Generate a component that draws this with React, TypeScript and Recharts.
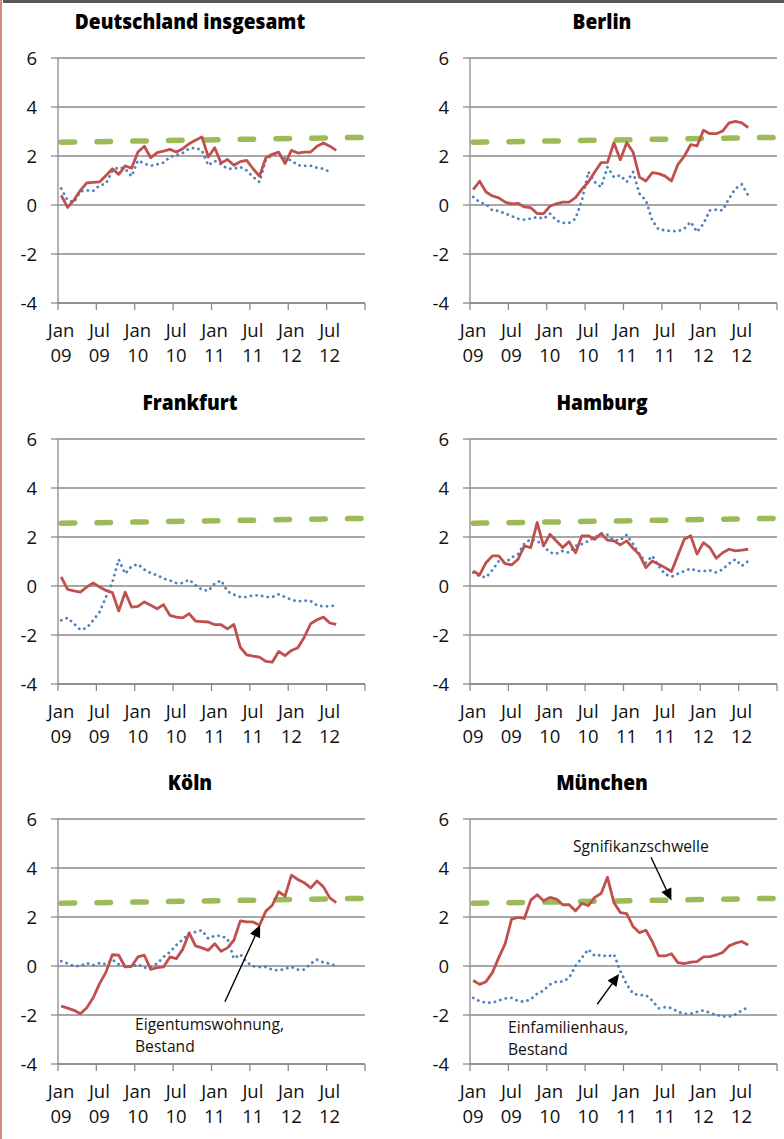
import React from 'react';
import { LineChart, Line, XAxis, YAxis, CartesianGrid, ReferenceLine } from 'recharts';

// x axis: 48 monthly categories, Jan 09 .. Dec 12, labels every 6 months
const tickMonths = [0, 6, 12, 18, 24, 30, 36, 42, 48];
const tickMonthNames = ['Jan', 'Jul', 'Jan', 'Jul', 'Jan', 'Jul', 'Jan', 'Jul', ''];
const tickYears = ['09', '09', '10', '10', '11', '11', '12', '12', ''];
const yTicks = [-4, -2, 0, 2, 4, 6];

// Signifikanzschwelle: first and last month
const thresholdMonths = [0.5, 47.5];
const threshold = [2.56, 2.76];

// Eigentumswohnung, Bestand (red) / Einfamilienhaus, Bestand (blue)
const deRed = [0.39, -0.1, 0.2, 0.6, 0.9, 0.92, 0.94, 1.2, 1.48, 1.25, 1.6, 1.5, 2.16, 2.4, 1.93, 2.14, 2.2, 2.27, 2.16, 2.3, 2.5, 2.64, 2.78, 1.96, 2.34, 1.71, 1.86, 1.62, 1.77, 1.82, 1.48, 1.18, 1.93, 2.07, 2.16, 1.69, 2.23, 2.12, 2.16, 2.16, 2.4, 2.53, 2.4, 2.23];
const deBlue = [0.67, 0.19, 0.12, 0.55, 0.6, 0.57, 0.8, 0.87, 1.4, 1.55, 1.48, 1.17, 1.82, 1.69, 1.6, 1.66, 1.73, 1.96, 2.03, 2.12, 2.3, 2.34, 2.23, 1.62, 1.8, 1.66, 1.48, 1.48, 1.55, 1.41, 1.14, 0.94, 1.85, 2.03, 2.1, 1.89, 1.82, 1.62, 1.6, 1.6, 1.52, 1.48, 1.35];

const berRed = [0.63, 0.97, 0.53, 0.37, 0.29, 0.12, 0.05, 0.07, -0.08, -0.11, -0.35, -0.35, -0.05, 0.05, 0.12, 0.12, 0.3, 0.65, 0.94, 1.35, 1.73, 1.74, 2.54, 1.85, 2.54, 2.16, 1.14, 0.98, 1.32, 1.28, 1.18, 0.98, 1.65, 1.99, 2.46, 2.41, 3.05, 2.91, 2.91, 3.02, 3.35, 3.41, 3.35, 3.16];
const berBlue = [0.33, 0.12, 0.03, -0.22, -0.24, -0.35, -0.45, -0.56, -0.6, -0.56, -0.49, -0.56, -0.35, -0.63, -0.73, -0.73, -0.56, 0.19, 1.35, 0.94, 0.73, 1.55, 1.14, 1.21, 0.94, 1.35, 0.46, 0.19, -0.63, -1.0, -1.03, -1.07, -1.07, -0.97, -0.69, -1.1, -0.76, -0.22, -0.19, -0.22, 0.26, 0.67, 0.84, 0.39];

const fraRed = [0.37, -0.14, -0.2, -0.25, -0.04, 0.12, -0.04, -0.18, -0.27, -1.02, -0.25, -0.86, -0.83, -0.65, -0.79, -0.93, -0.76, -1.2, -1.27, -1.3, -1.13, -1.43, -1.45, -1.47, -1.58, -1.58, -1.75, -1.57, -2.5, -2.81, -2.86, -2.9, -3.08, -3.11, -2.67, -2.84, -2.63, -2.52, -2.09, -1.54, -1.38, -1.27, -1.51, -1.57];
const fraBlue = [-1.4, -1.3, -1.54, -1.79, -1.71, -1.4, -1.06, -0.45, 0.16, 1.08, 0.5, 0.8, 0.89, 0.67, 0.53, 0.44, 0.3, 0.23, 0.12, 0.12, 0.26, 0.03, -0.15, -0.2, 0.1, 0.23, -0.22, -0.35, -0.45, -0.45, -0.38, -0.38, -0.45, -0.45, -0.34, -0.45, -0.56, -0.63, -0.59, -0.61, -0.79, -0.83, -0.83, -0.79];

const hamRed = [0.61, 0.45, 0.95, 1.23, 1.23, 0.91, 0.86, 1.09, 1.64, 1.57, 2.59, 1.64, 2.11, 1.84, 1.57, 1.81, 1.36, 2.05, 2.05, 1.91, 2.14, 1.87, 1.84, 1.68, 1.84, 1.54, 1.27, 0.75, 1.02, 0.89, 0.75, 0.59, 1.25, 1.91, 2.05, 1.3, 1.77, 1.57, 1.13, 1.36, 1.5, 1.43, 1.46, 1.5];
const hamBlue = [0.55, 0.4, 0.35, 0.65, 1.02, 0.95, 1.16, 1.3, 1.73, 1.91, 1.84, 1.64, 1.36, 1.32, 1.43, 1.36, 1.64, 1.71, 1.84, 1.98, 2.14, 2.09, 1.87, 1.87, 2.09, 1.71, 1.3, 0.95, 1.23, 0.82, 0.48, 0.38, 0.5, 0.61, 0.71, 0.61, 0.61, 0.64, 0.55, 0.68, 0.91, 1.09, 0.82, 1.02];

const kolRed = [-1.64, -1.72, -1.81, -1.95, -1.7, -1.3, -0.72, -0.25, 0.46, 0.44, -0.04, -0.01, 0.37, 0.44, -0.14, -0.07, -0.04, 0.37, 0.3, 0.68, 1.35, 0.82, 0.74, 0.64, 0.91, 0.6, 0.74, 1.05, 1.84, 1.8, 1.8, 1.66, 2.24, 2.48, 3.03, 2.85, 3.71, 3.53, 3.4, 3.19, 3.47, 3.23, 2.78, 2.59];
const kolBlue = [0.2, 0.1, 0, 0, 0.12, 0.03, 0.12, 0.07, 0.26, 0.07, -0.01, -0.04, 0.07, -0.07, -0.04, 0.1, 0.37, 0.57, 0.85, 1.08, 1.32, 1.39, 1.46, 1.12, 1.23, 1.23, 1.12, 0.3, 0.48, 0.16, -0.01, -0.04, -0.04, -0.15, -0.18, -0.11, -0.04, -0.15, -0.15, 0.1, 0.26, 0.14, 0.1, 0];

const munRed = [-0.59, -0.75, -0.64, -0.27, 0.34, 0.91, 1.91, 1.98, 1.94, 2.69, 2.91, 2.66, 2.8, 2.73, 2.5, 2.5, 2.25, 2.56, 2.46, 2.8, 2.96, 3.62, 2.59, 2.18, 2.14, 1.61, 1.36, 1.46, 1.0, 0.41, 0.41, 0.5, 0.14, 0.1, 0.16, 0.18, 0.37, 0.38, 0.45, 0.55, 0.82, 0.93, 1.0, 0.86];
const munBlue = [-1.3, -1.43, -1.5, -1.5, -1.41, -1.32, -1.3, -1.43, -1.46, -1.36, -1.13, -1.0, -0.75, -0.64, -0.64, -0.48, 0, 0.34, 0.68, 0.41, 0.45, 0.38, 0.48, -0.2, -0.75, -1.13, -1.19, -1.19, -1.41, -1.73, -1.68, -1.71, -1.87, -1.95, -1.95, -1.87, -1.81, -1.91, -2.0, -2.05, -2.07, -1.98, -1.81, -1.68];

// annotation arrows, in data coordinates (month, value): tail -> tip
const kolArrow = [{ x: 26.1, y: -1.46 }, { x: 31.6, y: 1.67 }];
const munThresholdArrow = [{ x: 28.3, y: 4.44 }, { x: 31.5, y: 2.67 }];
const munHouseArrow = [{ x: 19.9, y: -1.56 }, { x: 23.3, y: -0.33 }];

const FONT = '"Open Sans", sans-serif';
const GRID = '#8a8a8a';
const RED = '#c0504d';
const BLUE = '#4f81bd';
const GREEN = '#9bbb59';
const TICK_FS = 18.5;

const rowTops = [0, 381, 761];

const MonthTick = (props: any) => {
  const { x, y, payload } = props;
  const i = tickMonths.indexOf(payload.value);
  return (
    <g>
      <text x={x + 3} y={y + 27} textAnchor="middle" fontSize={TICK_FS} fontFamily={FONT} fill="#111">{tickMonthNames[i]}</text>
      <text x={x + 3} y={y + 52} textAnchor="middle" fontSize={TICK_FS} fontFamily={FONT} fill="#111">{tickYears[i]}</text>
    </g>
  );
};

const Arrow = (props: any) => {
  const { x1, y1, x2, y2 } = props;
  const a = Math.atan2(y2 - y1, x2 - x1);
  const len = 12, half = 5.5;
  const bx = x2 - len * Math.cos(a), by = y2 - len * Math.sin(a);
  const px = -Math.sin(a) * half, py = Math.cos(a) * half;
  return (
    <g>
      <line x1={x1} y1={y1} x2={bx} y2={by} stroke="#000" strokeWidth={1.4} />
      <polygon points={`${x2},${y2} ${bx + px},${by + py} ${bx - px},${by - py}`} fill="#000" />
    </g>
  );
};

// narrow text: the original face is more condensed than Open Sans
const SText = ({ x, y, sx, anchor = 'start', children, ...rest }: any) => (
  <text transform={`translate(${x},${y}) scale(${sx},1)`} textAnchor={anchor} {...rest}>{children}</text>
);

type PanelProps = { red: number[]; blue: number[]; col: number; row: number; arrows?: { x: number; y: number }[][] };

function Panel({ red, blue, col, row, arrows = [] }: PanelProps) {
  const data = red.map((v, i) => ({ m: i + 0.5, red: v, blue: i < blue.length ? blue[i] : null }));
  const thr = thresholdMonths.map((m, i) => ({ m, thr: threshold[i] }));
  return (
    <div style={{ position: 'absolute', left: col * 412, top: rowTops[row] }}>
      <LineChart width={370} height={380} data={data} margin={{ top: 58, right: 5, left: 0, bottom: 7 }}>
        <CartesianGrid vertical={false} stroke={GRID} strokeWidth={1.3} />
        <XAxis
          type="number" dataKey="m" domain={[0, 48]} ticks={tickMonths} interval={0}
          tickSize={7} tickMargin={0} height={70}
          axisLine={{ stroke: GRID, strokeWidth: 1.3 }} tickLine={{ stroke: GRID, strokeWidth: 1.3 }}
          tick={MonthTick}
        />
        <YAxis
          type="number" domain={[-4, 6]} ticks={yTicks} interval={0} width={58}
          tickSize={7} tickMargin={14}
          axisLine={{ stroke: GRID, strokeWidth: 1.3 }} tickLine={{ stroke: GRID, strokeWidth: 1.3 }}
          tick={{ fontSize: TICK_FS, fill: '#111', fontFamily: FONT }}
        />
        <Line data={thr} dataKey="thr" stroke={GREEN} strokeWidth={5.5} strokeDasharray="13.5 22.3"
          strokeLinecap="round" dot={false} isAnimationActive={false} />
        <Line dataKey="blue" stroke={BLUE} strokeWidth={2.8} strokeDasharray="0.1 5.6" strokeLinecap="round"
          dot={false} isAnimationActive={false} />
        <Line dataKey="red" stroke={RED} strokeWidth={2.8} strokeLinejoin="round" dot={false} isAnimationActive={false} />
        {arrows.map((seg, k) => (
          <ReferenceLine key={k} segment={seg} shape={Arrow} ifOverflow="visible" />
        ))}
      </LineChart>
    </div>
  );
}

const titles = ['Deutschland insgesamt', 'Berlin', 'Frankfurt', 'Hamburg', 'Köln', 'München'];

export default function App() {
  return (
    <div style={{ position: 'absolute', left: 0, top: 0, width: 784, height: 1139, background: '#fff', overflow: 'hidden' }}>
      <Panel red={deRed} blue={deBlue} col={0} row={0} />
      <Panel red={berRed} blue={berBlue} col={1} row={0} />
      <Panel red={fraRed} blue={fraBlue} col={0} row={1} />
      <Panel red={hamRed} blue={hamBlue} col={1} row={1} />
      <Panel red={kolRed} blue={kolBlue} col={0} row={2} arrows={[kolArrow]} />
      <Panel red={munRed} blue={munBlue} col={1} row={2} arrows={[munThresholdArrow, munHouseArrow]} />
      <svg width={784} height={1139} style={{ position: 'absolute', left: 0, top: 0, pointerEvents: 'none' }}>
        <rect x={0} y={0} width={2} height={1139} fill="#d4898b" />
        <rect x={3} y={0} width={781} height={3} fill="#595959" />
        {titles.map((t, i) => (
          <SText key={t} x={190 + (i % 2) * 412} y={28.5 + rowTops[Math.floor(i / 2)]} sx={0.91} anchor="middle"
            fontFamily={FONT} fontWeight={800} fontSize={21} fill="#000">{t}</SText>
        ))}
        <g fontFamily={FONT} fontSize={17} fill="#111">
          <SText x={135} y={1030} sx={0.92}>Eigentumswohnung,</SText>
          <SText x={135} y={1052} sx={0.92}>Bestand</SText>
          <SText x={573} y={852} sx={0.92}>Sgnifikanzschwelle</SText>
          <SText x={508} y={1033} sx={0.92}>Einfamilienhaus,</SText>
          <SText x={508} y={1055} sx={0.92}>Bestand</SText>
        </g>
      </svg>
    </div>
  );
}
